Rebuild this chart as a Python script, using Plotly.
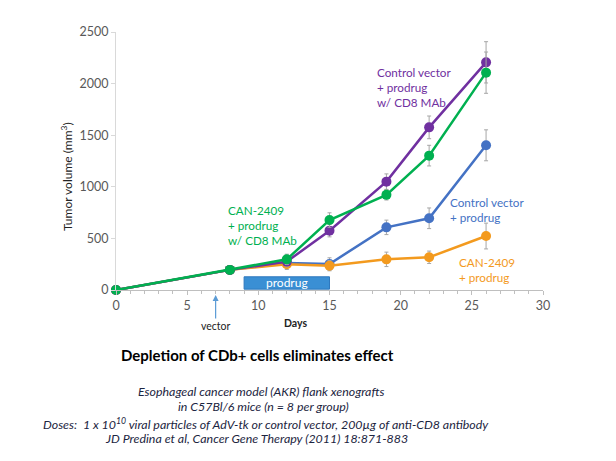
import plotly.graph_objects as go

days = [0, 8, 12, 15, 19, 22, 26]

green_vals = [0, 195, 297, 678, 922, 1302, 2106]
green_err = [0, 20, 50, 70, 50, 100, 200]
purple_vals = [0, 195, 275, 575, 1050, 1576, 2206]
purple_err = [0, 20, 50, 60, 75, 110, 200]
blue_vals = [0, 195, 262, 252, 607, 695, 1402]
blue_err = [0, 20, 40, 60, 70, 100, 150]
orange_vals = [0, 195, 249, 236, 297, 317, 523]
orange_err = [0, 20, 50, 50, 70, 60, 125]

prodrug_days = [9, 15]
prodrug_vol = [8, 128]
vector_day = 7

x_ticks = [0, 5, 10, 15, 20, 25, 30]
y_ticks = [0, 500, 1000, 1500, 2000, 2500]

C_GREEN = "#00b050"
C_PURPLE = "#7030a0"
C_BLUE = "#4472c4"
C_ORANGE = "#f39a1e"

W, H = 616, 461
L, R, T, B = 116, 543, 32, 290


def px(p):
    return (p - L) / (R - L)


def py(p):
    return (B - p) / (B - T)


fig = go.Figure()

series = [
    ("Control vector + prodrug", blue_vals, blue_err, C_BLUE),
    ("CAN-2409 + prodrug", orange_vals, orange_err, C_ORANGE),
    ("Control vector + prodrug w/ CD8 MAb", purple_vals, purple_err, C_PURPLE),
    ("CAN-2409 + prodrug w/ CD8 MAb", green_vals, green_err, C_GREEN),
]
for name, vals, err, col in series:
    fig.add_trace(go.Scatter(
        x=days, y=vals, name=name, mode="lines+markers",
        line=dict(color=col, width=2.5),
        marker=dict(color=col, size=10),
        error_y=dict(type="data", array=err, visible=True,
                     color="#a6a6a6", thickness=1, width=2),
        cliponaxis=False, showlegend=False,
    ))

fig.add_shape(type="rect", xref="x", yref="y",
              x0=prodrug_days[0], x1=prodrug_days[1],
              y0=prodrug_vol[0], y1=prodrug_vol[1],
              fillcolor="#3a8fd4", line=dict(color="#2e78be", width=1),
              layer="above")

font_fam = "Lato, 'DejaVu Sans', sans-serif"
LBL = 11.7

ann = []
ann.append(dict(x=(prodrug_days[0] + prodrug_days[1]) / 2,
                y=(prodrug_vol[0] + prodrug_vol[1]) / 2,
                xref="x", yref="y", text="prodrug", showarrow=False,
                xanchor="center", yanchor="middle",
                font=dict(color="white", size=12, family=font_fam)))

ann.append(dict(x=18.2, y=1967, xref="x", yref="y", xanchor="left",
                yanchor="middle", align="left", showarrow=False,
                text="Control vector<br>+ prodrug<br>w/ CD8 MAb",
                font=dict(color=C_PURPLE, size=LBL, family=font_fam)))
ann.append(dict(x=7.75, y=630, xref="x", yref="y", xanchor="left",
                yanchor="middle", align="left", showarrow=False,
                text="CAN-2409<br>+ prodrug<br>w/ CD8 MAb",
                font=dict(color=C_GREEN, size=LBL, family=font_fam)))
ann.append(dict(x=23.3, y=780, xref="x", yref="y", xanchor="left",
                yanchor="middle", align="left", showarrow=False,
                text="Control vector<br>+ prodrug",
                font=dict(color=C_BLUE, size=LBL, family=font_fam)))
ann.append(dict(x=23.95, y=200, xref="x", yref="y", xanchor="left",
                yanchor="middle", align="left", showarrow=False,
                text="CAN-2409<br>+ prodrug",
                font=dict(color=C_ORANGE, size=LBL, family=font_fam)))

ann.append(dict(x=vector_day, y=py(295), xref="x", yref="paper",
                text="vector", showarrow=True, ax=0, ay=31,
                arrowhead=2, arrowsize=1, arrowwidth=1.2,
                arrowcolor="#5b9bd5",
                font=dict(color="#222222", size=10.5, family=font_fam)))

ann.append(dict(x=px(295), y=py(322.7), xref="paper", yref="paper",
                xanchor="center", yanchor="middle",
                text="<b>Days</b>", showarrow=False,
                font=dict(color="#222222", size=10.5, family=font_fam)))

ann.append(dict(x=px(67), y=py(177), xref="paper", yref="paper",
                xanchor="center", yanchor="middle",
                text="Tumor volume (mm<sup>3</sup>)", textangle=-90,
                showarrow=False,
                font=dict(color="#222222", size=12, family=font_fam)))

ann.append(dict(x=px(257.5), y=py(355), xref="paper", yref="paper",
                xanchor="center", yanchor="middle",
                text="<b>Depletion of CDb+ cells eliminates effect</b>",
                showarrow=False,
                font=dict(color="#000000", size=15, family=font_fam)))

sub_lines = [
    ("Esophageal cancer model (AKR) flank xenografts", 261.7, 391.7),
    ("in C57Bl/6 mice (n = 8 per group)", 263, 406.7),
    ("Doses:  1 x 10<sup>10</sup> viral particles of AdV-tk or control vector, 200µg of anti-CD8 antibody", 266, 423),
    ("JD Predina et al, Cancer Gene Therapy (2011) 18:871-883", 256.7, 438),
]
for txt, cx, cy in sub_lines:
    ann.append(dict(x=px(cx), y=py(cy), xref="paper", yref="paper",
                    xanchor="center", yanchor="middle",
                    text="<i>" + txt + "</i>", showarrow=False,
                    font=dict(color="#1c2541", size=12.4, family=font_fam)))

fig.update_layout(
    width=W, height=H,
    margin=dict(l=L, r=W - R, t=T, b=H - B),
    paper_bgcolor="white", plot_bgcolor="white",
    annotations=ann,
    font=dict(family=font_fam),
)
fig.update_xaxes(range=[0, 30], tickvals=x_ticks, showgrid=False,
                 zeroline=False, showline=True, linecolor="#bfbfbf",
                 linewidth=1, ticks="outside", ticklen=4,
                 tickcolor="#bfbfbf",
                 minor=dict(dtick=1, ticks="outside", ticklen=3,
                            tickcolor="#bfbfbf"),
                 tickfont=dict(color="#595959", size=12.5, family=font_fam))
fig.update_yaxes(range=[0, 2500], tickvals=y_ticks, showgrid=False,
                 zeroline=False, showline=True, linecolor="#d9d9d9",
                 linewidth=1, ticks="outside", ticklen=4,
                 tickcolor="#d9d9d9",
                 tickfont=dict(color="#595959", size=12.5, family=font_fam))

fig.write_html("out.html")
